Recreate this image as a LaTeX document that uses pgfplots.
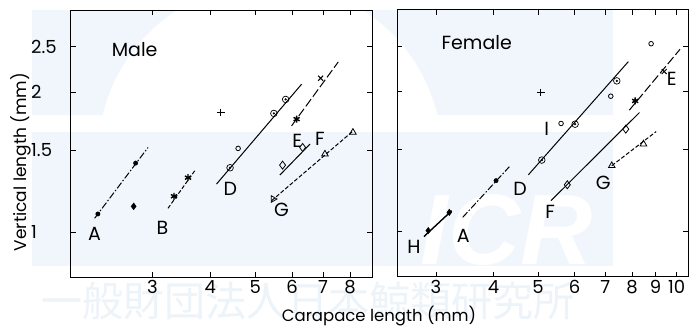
\documentclass[border=0pt]{standalone}
\usepackage{fontspec}
\setmainfont{Poppins}
\newfontfamily\cjk{Noto Sans CJK JP}
\newfontfamily\icrfont{Liberation Sans}
\usepackage{pgfplots}
\pgfplotsset{compat=1.18}
\usetikzlibrary{arrows.meta}
\definecolor{wm}{RGB}{240,246,251}
\definecolor{wmt}{RGB}{236,243,249}
\newcommand\lab{\fontsize{19}{19}\selectfont}
\pgfplotsset{
  ln/.style={black, line width=1pt, no marks},
  dashdot/.style={dash pattern=on 7pt off 2pt on 1.5pt off 2pt},
  shortdash/.style={dash pattern=on 4pt off 2pt},
  longdash/.style={dash pattern=on 9pt off 3pt},
  cdot/.style={only marks, mark=o, mark size=3.3pt, mark options={line width=0.7pt, black}},
  cdotc/.style={only marks, mark=*, mark size=0.9pt, mark options={black}},
  scirc/.style={only marks, mark=o, mark size=2.3pt, mark options={line width=0.8pt, black}},
  fdot/.style={only marks, mark=*, mark size=2.2pt, mark options={black}},
  odia/.style={only marks, mark=diamond, mark size=4pt, mark options={line width=0.8pt, black, fill=white}},
  otri/.style={only marks, mark=triangle, mark size=3.8pt, mark options={line width=0.8pt, black, fill=white}},
  ast/.style={only marks, mark=asterisk, mark size=3.5pt, mark options={line width=1.4pt, black}},
  crs/.style={only marks, mark=x, mark size=3.5pt, mark options={line width=1pt, black}},
  pls/.style={only marks, mark=+, mark size=3.8pt, mark options={line width=0.9pt, black}},
}
\begin{document}
\begin{tikzpicture}[x=1pt,y=1pt]
\path[use as bounding box] (0,0) rectangle (690,328);
% --- faint watermark ---
\begin{scope}
  \clip (32,213) rectangle (613,318);
  \fill[wm] (32,213) rectangle (613,318);
  \fill[white] (270,173) circle (172);
\end{scope}
\fill[wm] (32,62) rectangle (613,196);
\node[white, font=\icrfont\bfseries\itshape\fontsize{100}{100}\selectfont, anchor=base west, inner sep=0pt] at (420,63) {ICR};
\node[wmt, font=\cjk\fontsize{41}{41}\selectfont, anchor=base west, inner sep=0pt] at (41,11) {一般財団法人日本鯨類研究所};

% --- Male ---
\begin{loglogaxis}[scale only axis, anchor=south west,
  at={(70.7pt,51pt)}, width=301.6pt, height=267pt,
  xmin=2, xmax=8.94, ymin=0.8, ymax=3,
  xtick={3,4,5,6,7,8}, xticklabels={3,4,5,6,7,8},
  ytick={1,1.5,2,2.5}, yticklabels={1,1.5,2,2.5},
  tick align=inside, tick pos=both, major tick length=5pt,
  minor tick num=0,
  axis line style={line width=0.9pt},
  every tick/.style={black, line width=0.8pt},
  tick label style={font=\fontsize{18}{18}\selectfont},
  yticklabel style={anchor=west, xshift=-43pt},
  clip=false,
]
% A
\addplot[ln, dashdot] coordinates {(2.252,1.070) (2.936,1.519)};
\addplot[fdot] coordinates {(2.289,1.093) (2.761,1.406)};
\addplot[only marks, mark=diamond*, mark size=3.4pt, mark options={black}] coordinates {(2.734,1.135)};
% B
\addplot[ln, shortdash] coordinates {(3.242,1.124) (3.715,1.360)};
\addplot[ast] coordinates {(3.340,1.193) (3.581,1.308)};
% +
\addplot[pls] coordinates {(4.213,1.807)};
% D
\addplot[ln] coordinates {(4.124,1.267) (6.294,2.078)};
\addplot[cdot] coordinates {(4.412,1.374) (5.484,1.798) (5.814,1.927)};
\addplot[cdotc] coordinates {(4.412,1.374) (5.484,1.798) (5.814,1.927)};
\addplot[scirc] coordinates {(4.592,1.512)};
% E
\addplot[ln, longdash] coordinates {(5.989,1.691) (7.551,2.320)};
\addplot[ast] coordinates {(6.140,1.748)};
\addplot[crs] coordinates {(6.918,2.140)};
% F
\addplot[ln] coordinates {(5.649,1.325) (6.561,1.545)};
\addplot[odia] coordinates {(5.726,1.392) (6.326,1.519)};
% G
\addplot[ln, shortdash] coordinates {(5.421,1.167) (8.136,1.650)};
\addplot[only marks, mark=triangle, mark size=3.8pt, mark options={line width=0.8pt, black, fill=white, rotate=150}] coordinates {(5.465,1.177)};
\addplot[otri] coordinates {(7.067,1.470) (8.12,1.637)};
% labels
\node[font=\lab] at (axis cs:2.747,2.47) {Male};
\node[font=\lab] at (axis cs:2.252,0.990) {A};
\node[font=\lab] at (axis cs:3.153,1.018) {B};
\node[font=\lab] at (axis cs:4.42,1.237) {D};
\node[font=\lab] at (axis cs:6.159,1.570) {E};
\node[font=\lab] at (axis cs:6.893,1.584) {F};
\node[font=\lab] at (axis cs:5.697,1.117) {G};
\end{loglogaxis}

% --- Female ---
\begin{loglogaxis}[scale only axis, anchor=south west,
  at={(397.3pt,51.3pt)}, width=291pt, height=267pt,
  xmin=2.472, xmax=10.6, ymin=0.8, ymax=3,
  xtick={3,4,5,6,7,8,9,10}, xticklabels={3,4,5,6,7,8,9,10},
  ytick={1,1.5,2,2.5}, yticklabels={},
  tick align=inside, tick pos=both, major tick length=5pt,
  minor tick num=0,
  axis line style={line width=0.9pt},
  every tick/.style={black, line width=0.8pt},
  tick label style={font=\fontsize{18}{18}\selectfont},
  clip=false,
]
% H
\addplot[ln, line width=1.4pt] coordinates {(2.825,0.976) (3.245,1.109)};
\addplot[only marks, mark=diamond*, mark size=3.2pt, mark options={black}] coordinates {(2.886,1.005) (3.206,1.100)};
% A
\addplot[ln, dashdot] coordinates {(3.428,1.073) (4.330,1.379)};
\addplot[fdot] coordinates {(4.051,1.287)};
% D
\addplot[ln] coordinates {(4.763,1.325) (7.855,2.320)};
\addplot[cdot] coordinates {(5.093,1.425) (6.017,1.702) (7.413,2.109)};
\addplot[cdotc] coordinates {(5.093,1.425) (6.017,1.702) (7.413,2.109)};
% I
\addplot[scirc] coordinates {(5.608,1.708) (7.193,1.955) (8.80,2.535)};
% +
\addplot[pls] coordinates {(5.067,1.991)};
% E
\addplot[ln, longdash] coordinates {(7.893,1.825) (10.17,2.466)};
\addplot[ast] coordinates {(8.124,1.910)};
\addplot[crs] coordinates {(9.394,2.208)};
% F
\addplot[ln] coordinates {(5.335,1.166) (8.30,1.803)};
\addplot[odia] coordinates {(5.787,1.261) (7.755,1.661)};
% G
\addplot[ln, shortdash] coordinates {(7.229,1.386) (9.025,1.641)};
\addplot[otri] coordinates {(7.229,1.386) (8.47,1.543)};
% labels
\node[font=\lab] at (axis cs:3.678,2.553) {Female};
\node[font=\lab] at (axis cs:2.688,0.927) {H};
\node[font=\lab] at (axis cs:3.439,0.980) {A};
\node[font=\lab] at (axis cs:4.568,1.235) {D};
\node[font=\lab] at (axis cs:5.308,1.100) {F};
\node[font=\lab] at (axis cs:6.931,1.276) {G};
\node[font=\lab] at (axis cs:9.76,2.127) {E};
\node[font=\lab] at (axis cs:5.222,1.661) {I};
\end{loglogaxis}

% axis titles
\node[font=\fontsize{16.5}{16.5}\selectfont, anchor=base] at (379,6) {Carapace length (mm)};
\node[font=\fontsize{17}{17}\selectfont, anchor=base, rotate=90] at (26,166) {Vertical length (mm)};
\end{tikzpicture}
\end{document}
